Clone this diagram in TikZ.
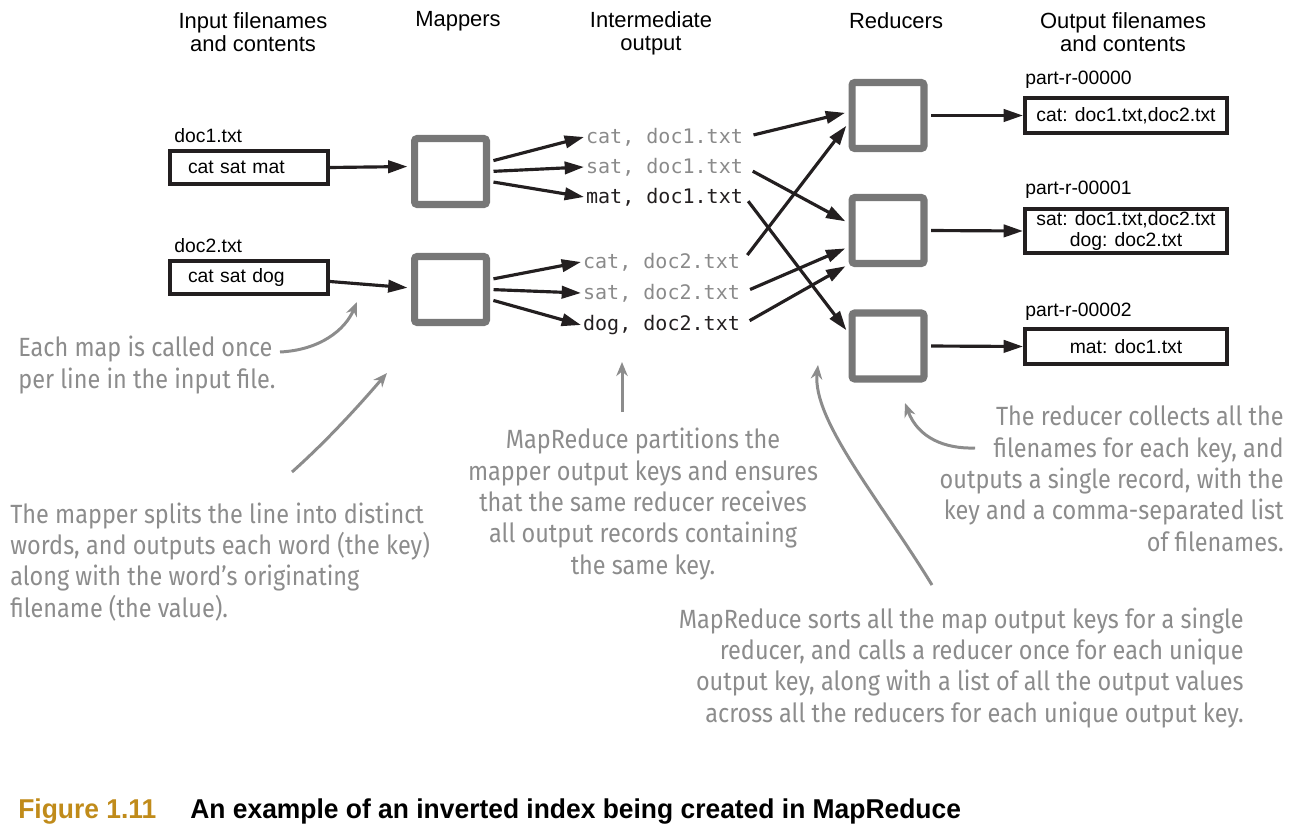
\documentclass[tikz,border=0pt]{standalone}
\usepackage{fontspec}
\setmainfont{Liberation Sans}
\newfontfamily\monof{DejaVu Sans Mono}
\newfontfamily\handf[FakeStretch=0.89]{Fira Sans}
\newfontfamily\capf[FakeStretch=0.97]{Liberation Sans}
\usetikzlibrary{arrows.meta,calc}
\definecolor{boxgray}{HTML}{777777}
\definecolor{notegray}{HTML}{8C8C8C}
\definecolor{keygray}{HTML}{8A8A8A}
\definecolor{gold}{HTML}{C08B1A}
\definecolor{ink}{HTML}{231F20}
\tikzset{
  hdr/.style={font=\fontsize{12.5}{13}\selectfont, align=center, inner sep=0},
  mapbox/.style={draw=boxgray, line width=4pt, rounded corners=1.5pt, minimum width=1.44cm, minimum height=1.32cm, inner sep=0},
  filebox/.style={draw=ink, line width=2.3pt, inner sep=0},
  lbl/.style={font=\fontsize{11}{13}\selectfont, inner sep=0, anchor=west},
  keyg/.style={font=\monof\fontsize{11.4}{13}\selectfont, inner sep=1pt, anchor=west, text=keygray},
  keyb/.style={font=\monof\fontsize{11.4}{13}\selectfont, inner sep=1pt, anchor=west, text=ink},
  arr/.style={draw=ink, line width=1.8pt, -{Triangle[length=11pt,width=7pt]}},
  note/.style={font=\handf\fontsize{15}{17.8}\selectfont, text=notegray, inner sep=0},
  narr/.style={draw=notegray, line width=1.7pt, -{Stealth[length=8pt,width=6.5pt]}},
}
\begin{document}
\begin{tikzpicture}[x=0.02cm,y=-0.02cm]
\useasboundingbox (0,0) rectangle (1300,837);
% headers
\node[hdr] (h1) at (253,32.5) {Input filenames\\and contents};
\node[hdr] (h2) at (458,21) {Mappers};
\node[hdr] (h3) at (651,33.5) {Intermediate\\output};
\node[hdr] (h4) at (896,21) {Reducers};
\node[hdr] (h5) at (1123,32.5) {Output filenames\\and contents};
% inputs
\node[lbl] (l1) at (174,136) {doc1.txt};
\node[lbl] (l2) at (174,246) {doc2.txt};
\node[filebox, font=\fontsize{11}{13}\selectfont, text width=2.44cm, inner xsep=0.36cm, minimum height=0.66cm, align=left] (b1) at (249,167.5) {cat sat mat};
\node[filebox, font=\fontsize{11}{13}\selectfont, text width=2.44cm, inner xsep=0.36cm, minimum height=0.66cm, align=left] (b2) at (249,277.5) {cat sat dog};
% mappers
\node[mapbox] (m1) at (450.5,171.5) {};
\node[mapbox] (m2) at (450.5,289.5) {};
% intermediate
\node[keyg] (i1) at (584,137) {cat, doc1.txt};
\node[keyg] (i2) at (584,167) {sat, doc1.txt};
\node[keyb] (i3) at (584,197) {mat, doc1.txt};
\node[keyg] (i4) at (581,262) {cat, doc2.txt};
\node[keyg] (i5) at (581,293) {sat, doc2.txt};
\node[keyb] (i6) at (581,325) {dog, doc2.txt};
% reducers
\node[mapbox] (r1) at (888,115.5) {};
\node[mapbox] (r2) at (888,230.5) {};
\node[mapbox] (r3) at (888,346) {};
% outputs
\node[lbl] (p1) at (1025,80) {part-r-00000};
\node[lbl] (p2) at (1025,190) {part-r-00001};
\node[lbl] (p3) at (1025,312) {part-r-00002};
\node[filebox, font=\fontsize{11}{13}\selectfont, minimum width=4.04cm, minimum height=0.70cm, align=center] (o1) at (1126,115.5) {cat: doc1.txt,doc2.txt};
\node[filebox, font=\fontsize{11}{11.5}\selectfont, minimum width=4.04cm, minimum height=0.88cm, align=center] (o2) at (1126,231) {sat: doc1.txt,doc2.txt\\dog: doc2.txt};
\node[filebox, font=\fontsize{11}{13}\selectfont, minimum width=4.04cm, minimum height=0.70cm, align=center] (o3) at (1126,346.5) {mat: doc1.txt};
% arrows input -> mapper
\draw[arr, shorten >=2pt] (b1.east) -- ($(m1.west)+(0,-5)$);
\draw[arr, shorten >=2pt] ($(b2.east)+(0,4)$) -- ($(m2.west)+(0,-1.5)$);
% mapper -> intermediate
\draw[arr, shorten <=2pt] ($(m1.east)+(0,-10)$) -- (i1.west);
\draw[arr, shorten <=2pt] ($(m1.east)+(0,0)$) -- (i2.west);
\draw[arr, shorten <=2pt] ($(m1.east)+(0,10)$) -- (i3.west);
\draw[arr, shorten <=2pt] ($(m2.east)+(0,-10)$) -- (i4.west);
\draw[arr, shorten <=2pt] ($(m2.east)+(0,0)$) -- (i5.west);
\draw[arr, shorten <=2pt] ($(m2.east)+(0,10)$) -- (i6.west);
% intermediate -> reducers
\draw[arr, shorten <=5pt, shorten >=2pt] (i1.east) -- ($(r1.west)+(0,-3.5)$);
\draw[arr, shorten <=5pt, shorten >=2pt] (i4.east) -- ($(r1.west)+(0,7.5)$);
\draw[arr, shorten <=5pt, shorten >=2pt] (i2.east) -- ($(r2.west)+(0,-7.5)$);
\draw[arr, shorten <=5pt, shorten >=2pt] (i5.east) -- ($(r2.west)+(0,16.5)$);
\draw[arr, shorten <=5pt, shorten >=2pt] (i6.east) -- ($(r2.west)+(0,34)$);
\draw[arr, shorten <=3pt, shorten >=2pt] (i3.east) -- ($(r3.west)+(0,-13)$);
% reducers -> outputs
\draw[arr, shorten <=2pt] (r1.east) -- (o1.west);
\draw[arr, shorten <=2pt] (r2.east) -- (o2.west);
\draw[arr, shorten <=2pt] (r3.east) -- (o3.west);
% notes (anchor base = baseline of last line)
\node[note, anchor=base west, align=left] (t1) at (18,388) {Each map is called once\\per line in the input file.};
\node[note, anchor=base west, align=left] (t2) at (10,617) {The mapper splits the line into distinct\\words, and outputs each word (the key)\\along with the word’s originating\\filename (the value).};
\node[note, anchor=base, align=center] (t3) at (643,574) {MapReduce partitions the\\mapper output keys and ensures\\that the same reducer receives\\all output records containing\\the same key.};
\node[note, anchor=base east, align=right] (t4) at (1284,551) {The reducer collects all the\\filenames for each key, and\\outputs a single record, with the\\key and a comma-separated list\\of filenames.};
\node[note, anchor=base east, align=right] (t5) at (1244,722) {MapReduce sorts all the map output keys for a single\\reducer, and calls a reducer once for each unique\\output key, along with a list of all the output values\\across all the reducers for each unique output key.};
% note arrows
\coordinate (a1s) at (280,352); \coordinate (a1e) at (357,302);
\coordinate (a2s) at (292,472); \coordinate (a2e) at (387,373);
\coordinate (a3s) at (622,412); \coordinate (a3e) at (622,362);
\coordinate (a4s) at (932,585); \coordinate (a4e) at (818,365);
\coordinate (a5s) at (975,448); \coordinate (a5e) at (905,403);
\draw[narr] (a1s) .. controls (320,350) and (345,330) .. (a1e);
\draw[narr] (a2s) .. controls (330,438) and (362,402) .. (a2e);
\draw[narr] (a3s) -- (a3e);
\draw[narr] (a4s) .. controls (880,500) and (812,420) .. (a4e);
\draw[narr] (a5s) .. controls (945,449) and (918,438) .. (a5e);
% caption
\node[anchor=base west, inner sep=0, font=\capf\bfseries\fontsize{15.5}{18}\selectfont, text=gold] (fig) at (18,818) {Figure 1.11};
\node[anchor=base west, inner sep=0, font=\capf\bfseries\fontsize{15.5}{18}\selectfont, text=black] (cap) at (190,818) {An example of an inverted index being created in MapReduce};
\end{tikzpicture}
\end{document}
